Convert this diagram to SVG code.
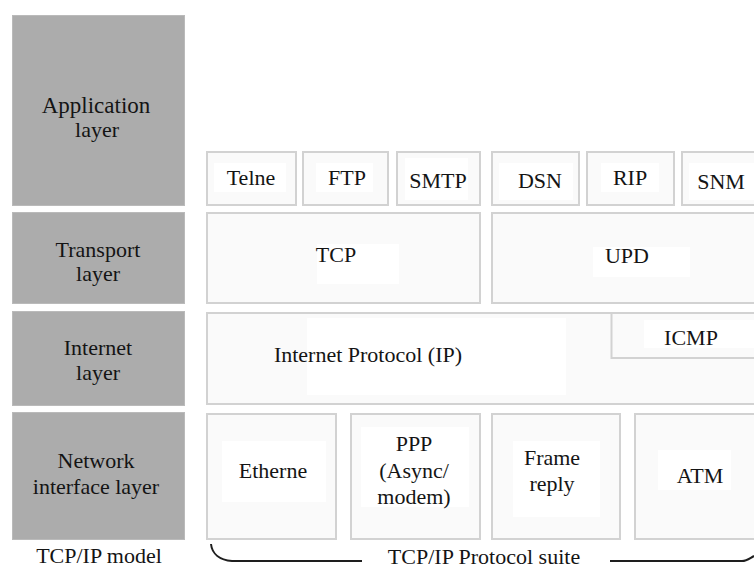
<svg xmlns="http://www.w3.org/2000/svg" width="754" height="568" viewBox="0 0 754 568">
<style>
.layer{fill:#acacac;stroke:#bababa;stroke-width:1}
.box{fill:#fafafa;stroke:#d2d2d2;stroke-width:2}
.pad{fill:#ffffff}
text{font-family:'Liberation Serif','Times New Roman',serif;font-size:22px;fill:#141414;text-anchor:middle}
.brace{fill:none;stroke:#1e1e1e;stroke-width:2}
</style>
<rect width="754" height="568" fill="#ffffff"/>

<g id="model-layers">
  <g id="application-layer">
    <rect class="layer" x="12.5" y="15.5" width="172" height="190"/>
    <text x="96" y="113" style="font-size:23px">Application</text>
    <text x="97" y="137">layer</text>
  </g>
  <g id="transport-layer">
    <rect class="layer" x="12.5" y="212.5" width="172" height="91"/>
    <text x="98" y="257">Transport</text>
    <text x="98" y="281">layer</text>
  </g>
  <g id="internet-layer">
    <rect class="layer" x="12.5" y="311.5" width="172" height="94"/>
    <text x="98" y="355">Internet</text>
    <text x="98" y="380">layer</text>
  </g>
  <g id="network-interface-layer">
    <rect class="layer" x="12.5" y="412.5" width="172" height="127"/>
    <text x="96" y="468">Network</text>
    <text x="96" y="494">interface layer</text>
  </g>
</g>

<g id="application-protocols">
  <g id="telne">
    <rect class="box" x="207" y="152" width="89" height="53"/>
    <rect class="pad" x="214" y="163" width="72" height="29"/>
    <text x="251" y="185">Telne</text>
  </g>
  <g id="ftp">
    <rect class="box" x="303" y="152" width="85" height="53"/>
    <rect class="pad" x="316" y="163" width="57" height="29"/>
    <text x="347" y="185">FTP</text>
  </g>
  <g id="smtp">
    <rect class="box" x="397" y="152" width="83" height="53"/>
    <rect class="pad" x="405" y="158" width="63" height="42"/>
    <text x="438" y="188">SMTP</text>
  </g>
  <g id="dsn">
    <rect class="box" x="492" y="152" width="87" height="53"/>
    <rect class="pad" x="499" y="163" width="74" height="37"/>
    <text x="540" y="188">DSN</text>
  </g>
  <g id="rip">
    <rect class="box" x="587" y="152" width="87" height="53"/>
    <rect class="pad" x="601" y="163" width="58" height="29"/>
    <text x="630" y="185">RIP</text>
  </g>
  <g id="snm">
    <rect class="box" x="682" y="152" width="80" height="53"/>
    <rect class="pad" x="689" y="163" width="65" height="37"/>
    <text x="721" y="189">SNM</text>
  </g>
</g>

<g id="transport-protocols">
  <g id="tcp">
    <rect class="box" x="207" y="213" width="273" height="90"/>
    <rect class="pad" x="317" y="244" width="82" height="40"/>
    <text x="336" y="262">TCP</text>
  </g>
  <g id="upd">
    <rect class="box" x="492" y="213" width="270" height="90"/>
    <rect class="pad" x="593" y="247" width="97" height="30"/>
    <text x="627" y="263">UPD</text>
  </g>
</g>

<g id="internet-protocols">
  <g id="ip">
    <rect class="box" x="207" y="313" width="555" height="91"/>
    <rect class="pad" x="307" y="318" width="259" height="77"/>
    <text x="368" y="362">Internet Protocol (IP)</text>
  </g>
  <g id="icmp">
    <path d="M754 358 H611.5 V313" fill="none" stroke="#d2d2d2" stroke-width="2"/>
    <rect class="pad" x="644" y="320" width="110" height="28"/>
    <text x="691" y="345">ICMP</text>
  </g>
</g>

<g id="network-protocols">
  <g id="etherne">
    <rect class="box" x="207" y="414" width="129" height="125"/>
    <rect class="pad" x="222" y="441" width="104" height="61"/>
    <text x="273" y="478">Etherne</text>
  </g>
  <g id="ppp">
    <rect class="box" x="351" y="414" width="129" height="125"/>
    <rect class="pad" x="361" y="427" width="108" height="80"/>
    <text x="414" y="451">PPP</text>
    <text x="414" y="478">(Async/</text>
    <text x="414" y="504">modem)</text>
  </g>
  <g id="frame-reply">
    <rect class="box" x="492" y="414" width="128" height="125"/>
    <rect class="pad" x="513" y="441" width="87" height="76"/>
    <text x="552" y="465">Frame</text>
    <text x="552" y="491">reply</text>
  </g>
  <g id="atm">
    <rect class="box" x="635" y="414" width="127" height="125"/>
    <rect class="pad" x="658" y="450" width="73" height="40"/>
    <text x="700" y="483">ATM</text>
  </g>
</g>

<g id="connectors">
  <path class="brace" d="M211 544 C212 554 220 560 232 561 H362"/>
  <path class="brace" d="M610 561 H742 C747 561 750 558 754 556"/>
</g>

<g id="captions">
  <text x="99" y="563">TCP/IP model</text>
  <text x="484" y="564">TCP/IP Protocol suite</text>
</g>
</svg>
